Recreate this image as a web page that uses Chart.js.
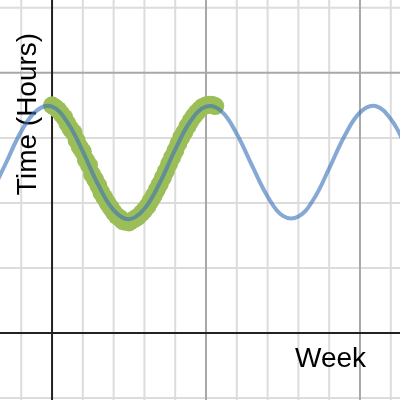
<!DOCTYPE html>
<html lang="en">
<head>
    <meta charset="UTF-8">
    <title>Time (Hours) vs Week</title>
    <style>
        html, body { margin: 0; padding: 0; background: #fff; }
        #wrap { width: 400px; height: 400px; position: relative; }
    </style>
</head>
<body>
    <div id="wrap"><canvas id="chart" width="400" height="400"></canvas></div>
    <script src="https://cdn.jsdelivr.net/npm/chart.js@4/dist/chart.umd.min.js"></script>
    <script>
        // observed points (week, time)
        const obsWeeks = [0, 0.1, 0.2, 0.3, 0.4, 0.5, 0.6, 0.7, 0.8, 0.9, 1.0, 1.1, 1.2, 1.3, 1.4, 1.5,
            1.6, 1.7, 1.8, 1.9, 2.0, 2.1, 2.2, 2.3, 2.4, 2.5, 2.6, 2.7, 2.8, 2.9, 3.0, 3.1, 3.2, 3.3,
            3.4, 3.5, 3.6, 3.7, 3.8, 3.9, 4.0, 4.1, 4.2, 4.3, 4.4, 4.5, 4.6, 4.7, 4.8, 4.9, 5.0, 5.1,
            5.2, 5.3];
        const obsTimes = [3.50, 3.47, 3.43, 3.37, 3.31, 3.22, 3.14, 3.08, 2.96, 2.86, 2.79, 2.66, 2.58,
            2.44, 2.36, 2.27, 2.16, 2.08, 2.00, 1.93, 1.86, 1.80, 1.77, 1.72, 1.71, 1.70, 1.73, 1.76,
            1.79, 1.84, 1.89, 1.95, 2.03, 2.11, 2.20, 2.29, 2.39, 2.49, 2.60, 2.70, 2.80, 2.91, 3.01,
            3.09, 3.18, 3.26, 3.33, 3.39, 3.44, 3.48, 3.50, 3.51, 3.51, 3.49];

        // fitted curve
        const fitWeeks = [-2, -1.5, -1, -0.5, 0, 0.5, 1, 1.5, 2, 2.5, 3, 3.5, 4, 4.5, 5, 5.5, 6, 6.5,
            7, 7.5, 8, 8.5, 9, 9.5, 10, 10.5, 11, 11.5];
        const fitTimes = [2.12, 2.61, 3.10, 3.42, 3.48, 3.24, 2.79, 2.28, 1.89, 1.75, 1.91, 2.31, 2.82, 3.26,
            3.48, 3.41, 3.06, 2.57, 2.10, 1.80, 1.79, 2.06, 2.53, 3.03, 3.39, 3.49, 3.29, 2.87];

        const xMin = -1.69, xMax = 11.3;
        const yMin = -1.03, yMax = 5.12;
        const xMajor = 5, yMajor = 4;

        const toPts = (xs, ys) => xs.map((x, i) => ({ x: x, y: ys[i] }));

        // grid, axes and axis titles, drawn under the data
        const gridPlugin = {
            id: 'grid',
            beforeDatasetsDraw(chart) {
                const c = chart.ctx, a = chart.chartArea;
                const sx = chart.scales.x, sy = chart.scales.y;
                c.save();
                c.lineWidth = 2;
                const lines = (majorPass) => {
                    for (let v = Math.ceil(xMin); v <= xMax; v++) {
                        if (v === 0 || (v % xMajor === 0) !== majorPass) continue;
                        const p = sx.getPixelForValue(v);
                        c.beginPath(); c.moveTo(p, a.top); c.lineTo(p, a.bottom); c.stroke();
                    }
                    for (let v = Math.ceil(yMin); v <= yMax; v++) {
                        if (v === 0 || (v % yMajor === 0) !== majorPass) continue;
                        const p = sy.getPixelForValue(v);
                        c.beginPath(); c.moveTo(a.left, p); c.lineTo(a.right, p); c.stroke();
                    }
                };
                c.strokeStyle = '#dcdcdc';
                lines(false);
                c.strokeStyle = '#a8a8a8';
                lines(true);

                const x0 = sx.getPixelForValue(0), y0 = sy.getPixelForValue(0);
                c.strokeStyle = '#222';
                c.beginPath();
                c.moveTo(x0, a.top); c.lineTo(x0, a.bottom);
                c.moveTo(a.left, y0); c.lineTo(a.right, y0);
                c.stroke();

                c.font = '28px "Liberation Sans", Arial, sans-serif';
                c.fillStyle = '#000';
                c.fillText('Week', 295, 367);
                c.translate(36, 114);
                c.rotate(-Math.PI / 2);
                c.textAlign = 'center';
                c.fillText('Time (Hours)', 0, 0);
                c.restore();
            }
        };

        new Chart(document.getElementById('chart'), {
            type: 'scatter',
            data: {
                datasets: [{
                    label: 'observed',
                    data: toPts(obsWeeks, obsTimes),
                    backgroundColor: 'rgb(155,190,88)',
                    borderWidth: 0,
                    pointRadius: 9,
                    pointHoverRadius: 9,
                    order: 2
                }, {
                    label: 'fit',
                    type: 'line',
                    data: toPts(fitWeeks, fitTimes),
                    borderColor: 'rgba(60,115,185,0.62)',
                    borderWidth: 4,
                    pointRadius: 0,
                    tension: 0.4,
                    fill: false,
                    order: 1
                }]
            },
            options: {
                responsive: false,
                animation: false,
                layout: { padding: 0, autoPadding: false },
                plugins: { legend: { display: false }, tooltip: { enabled: false } },
                scales: {
                    x: { type: 'linear', display: false, min: xMin, max: xMax },
                    y: { type: 'linear', display: false, min: yMin, max: yMax }
                }
            },
            plugins: [gridPlugin]
        });
    </script>
</body>
</html>
